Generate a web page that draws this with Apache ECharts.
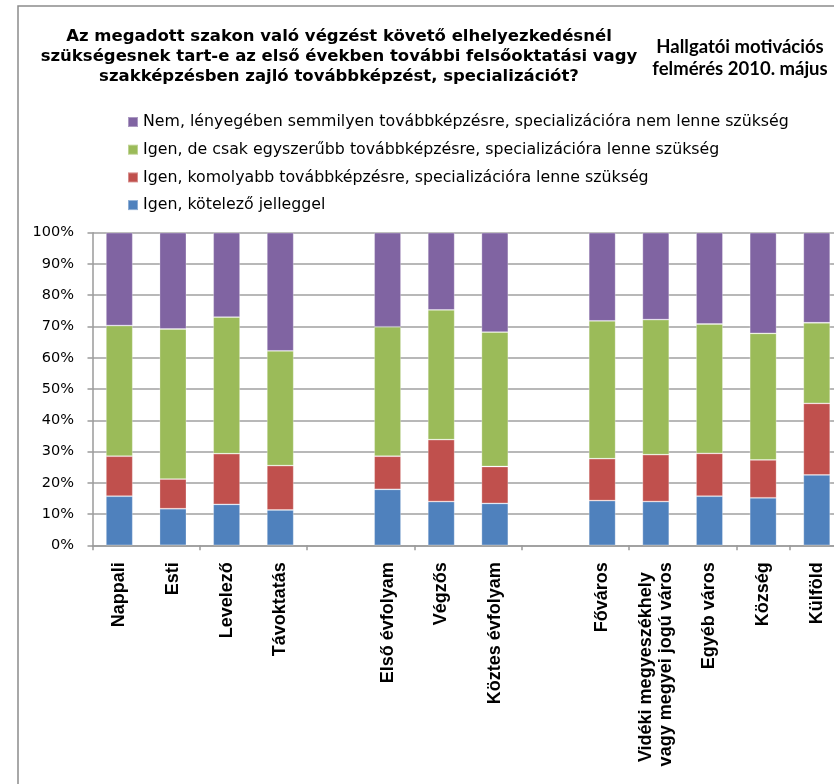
<!DOCTYPE html>
<html>
<head>
<meta charset="utf-8">
<script src="https://cdn.jsdelivr.net/npm/echarts@6/dist/echarts.min.js"></script>
<style>
html,body{margin:0;padding:0;background:#fff;}
#chart{width:834px;height:784px;}
</style>
</head>
<body>
<div id="chart"></div>
<script>
// ---- data ----
const categories = ['Nappali', 'Esti', 'Levelező', 'Távoktatás', '', 'Első évfolyam', 'Végzős', 'Köztes évfolyam', '', 'Főváros', 'Vidéki megyeszékhely  \nvagy megyei jogú város', 'Egyéb város', 'Község', 'Külföld'];
const seriesNames = [
  'Igen, kötelező jelleggel',
  'Igen, komolyabb továbbképzésre, specializációra lenne szükség',
  'Igen, de csak egyszerűbb továbbképzésre, specializációra lenne szükség',
  'Nem, lényegében semmilyen továbbképzésre, specializációra nem lenne szükség'
];
const kotelezo  = [15.7, 11.7, 13.1, 11.3, '-', 17.9, 14.0, 13.4, '-', 14.3, 14.0, 15.7, 15.2, 22.5];
const komolyabb = [12.8,  9.5, 16.2, 14.2, '-', 10.6, 19.8, 11.8, '-', 13.4, 15.0, 13.7, 12.1, 22.9];
const egyszerubb= [41.8, 48.0, 43.7, 36.7, '-', 41.4, 41.5, 43.0, '-', 44.1, 43.2, 41.4, 40.5, 25.8];
const nem       = [29.7, 30.8, 27.0, 37.8, '-', 30.1, 24.7, 31.8, '-', 28.2, 27.8, 29.2, 32.2, 28.8];
const yTicks = [0, 10, 20, 30, 40, 50, 60, 70, 80, 90, 100];
const titleText = 'Az megadott szakon való végzést követő elhelyezkedésnél\nszükségesnek tart-e az első években további felsőoktatási vagy\nszakképzésben zajló továbbképzést, specializációt?';
const subtitleText = 'Hallgatói motivációs\nfelmérés 2010. május';

const colors = ['#4F81BD', '#C0504D', '#9BBB59', '#8064A2'];
const values = [kotelezo, komolyabb, egyszerubb, nem];

const chart = echarts.init(document.getElementById('chart'), null, {renderer: 'canvas'});
const FONT = '"DejaVu Sans", "Liberation Sans", Arial, sans-serif';
const ARIAL = '"Liberation Sans", Arial, sans-serif';

chart.setOption({
  animation: false,
  color: colors,
  title: [
    {
      text: titleText, left: 334, top: 22, textAlign: 'center',
      textStyle: {fontFamily: FONT, fontSize: 16.5, fontWeight: 'bold', color: '#000', lineHeight: 20, align: 'center'}
    },
    {
      text: subtitleText, left: 735, top: 31, textAlign: 'center',
      textStyle: {fontFamily: 'Lato', fontSize: 18.5, fontWeight: 'bold', color: '#000', lineHeight: 22, align: 'center'}
    }
  ],
  legend: {
    orient: 'vertical', left: 127, top: 114, padding: 0,
    itemWidth: 10, itemHeight: 10, itemGap: 11.7,
    icon: 'rect',
    data: [seriesNames[3], seriesNames[2], seriesNames[1], seriesNames[0]],
    textStyle: {fontFamily: FONT, fontSize: 15.8, color: '#000', lineHeight: 16}
  },
  grid: {left: 92.5, top: 232.7, height: 312.6, width: 751.1, outerBoundsMode: 'none', containLabel: false},
  graphic: [{
    type: 'rect', z: -1, silent: true,
    shape: {x: 18, y: 6, width: 1000, height: 1000},
    style: {fill: 'none', stroke: '#8c8c8c', lineWidth: 1.5}
  }],
  xAxis: {
    type: 'category', data: categories,
    axisLine: {lineStyle: {color: '#9a9a9a', width: 1.5}},
    axisTick: {show: true, interval: 1, alignWithLabel: false, length: 5, lineStyle: {color: '#9a9a9a', width: 1.5}},
    axisLabel: {
      interval: 0, rotate: 90, margin: 17,
      fontFamily: ARIAL, fontSize: 18, fontWeight: 'bold', color: '#000', lineHeight: 19.5
    }
  },
  yAxis: {
    type: 'value', min: 0, max: 100, interval: 10,
    axisLine: {show: true, lineStyle: {color: '#9a9a9a', width: 1.5}},
    axisTick: {show: true, length: 5, lineStyle: {color: '#9a9a9a', width: 1.5}},
    splitLine: {lineStyle: {color: '#a0a0a0', width: 1.5}},
    axisLabel: {
      margin: 18.5, fontFamily: FONT, fontSize: 14.5, color: '#000',
      formatter: v => yTicks.includes(v) ? v + '%' : ''
    }
  },
  series: values.map((arr, i) => ({
    name: seriesNames[i], type: 'bar', stack: 'total',
    data: arr, barWidth: '50%',
    itemStyle: {color: colors[i], borderColor: 'rgba(255,255,255,0.35)', borderWidth: 0.8}
  }))
});
</script>
</body>
</html>
